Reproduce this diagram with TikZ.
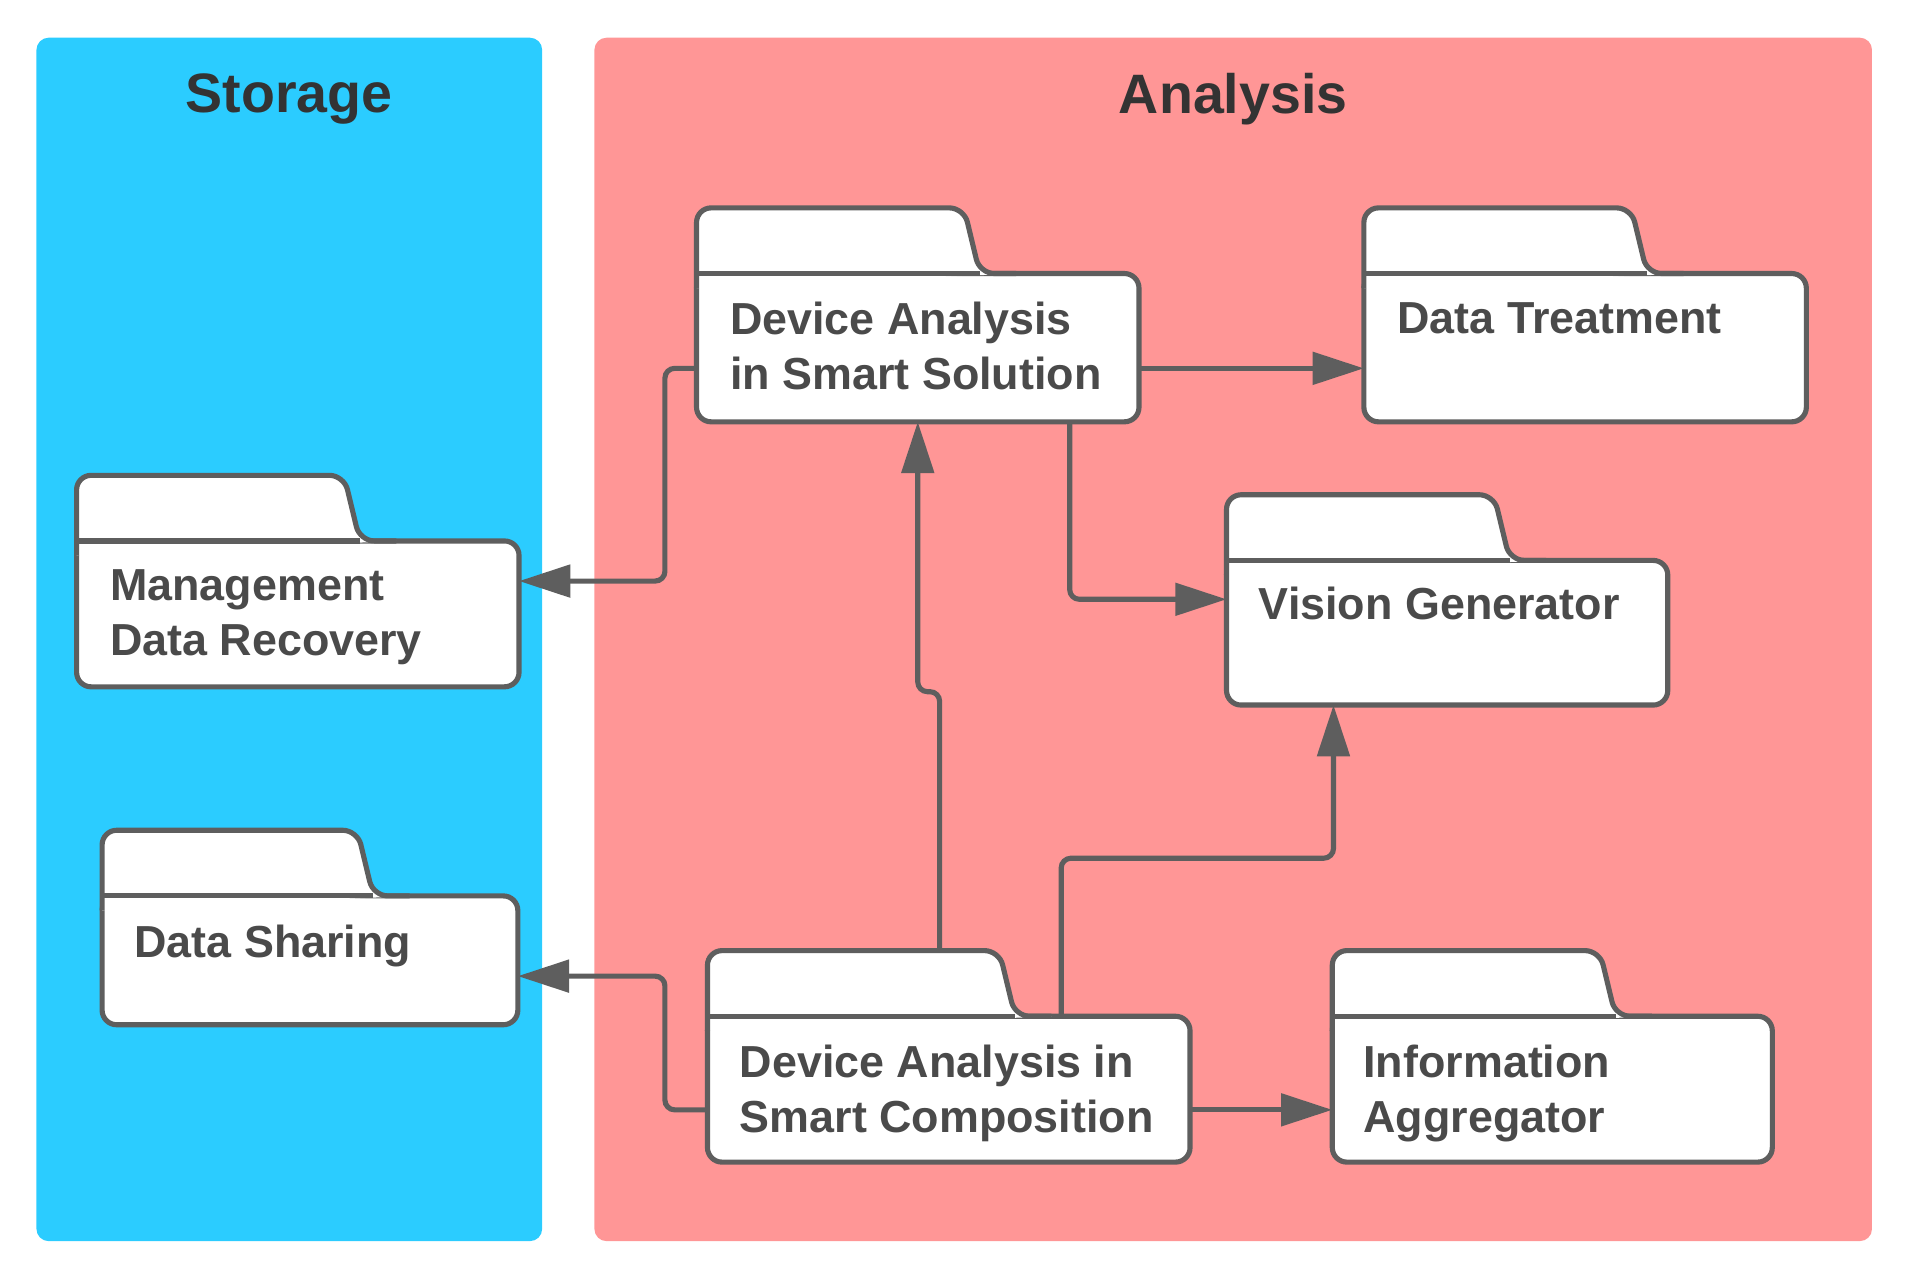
\documentclass[tikz,border=0pt]{standalone}
\usepackage{fontspec}
\setmainfont{Liberation Sans}
\usetikzlibrary{arrows.meta}

\definecolor{storagecyan}{RGB}{43,204,255}
\definecolor{analysispink}{RGB}{255,150,150}
\definecolor{linegray}{RGB}{94,94,94}
\definecolor{textgray}{RGB}{74,74,74}
\definecolor{titlegray}{RGB}{51,51,51}

% tab on top of a folder body node: #1 = body node, #2 = tab width
\newcommand{\foldertab}[2]{%
  \draw[folderline,fill=white,rounded corners=1.2mm]
    ([yshift=-1.2mm]#1.north west) -- ++(0,0.66) -- ++(#2,0)
    -- ++(0.13,-0.54) -- ++(0.3,0);
  \draw[folderline] (#1.north west) -- ++({#2+0.13},0);
  \coordinate (#1-tab) at ([yshift=5.4mm]#1.north west);
}

\begin{document}
\begin{tikzpicture}[
  panel/.style={rounded corners=1mm,inner sep=0pt},
  paneltitle/.style={font=\fontsize{13}{15}\selectfont\bfseries,text=titlegray},
  folder/.style={draw=linegray,line width=1.2pt,fill=white,rounded corners=1.2mm,
    inner sep=0pt,outer sep=0pt},
  folderline/.style={draw=linegray,line width=1.2pt},
  foldertext/.style={font=\fontsize{10.5}{12.8}\selectfont\bfseries,text=textgray,
    align=left,anchor=north west,inner sep=0pt},
  flow/.style={draw=linegray,line width=1.2pt,rounded corners=0.8mm,
    -{Triangle[length=12pt,width=7.5pt]}},
]
\useasboundingbox (0,0) rectangle (15.68,-10.55);

% ------------------------------------------------------------------
% Panels with their titles
% ------------------------------------------------------------------
\node[panel,fill=storagecyan,minimum width=4.16cm,minimum height=9.90cm] (storage) at (2.38,-5.26) {};
\node[panel,fill=analysispink,minimum width=10.51cm,minimum height=9.90cm] (analysis) at (10.145,-5.26) {};

\node[paneltitle] (storagetitle) at ([yshift=-0.51cm]storage.north) {Storage};
\node[paneltitle] (analysistitle) at ([yshift=-0.51cm]analysis.north) {Analysis};

% ------------------------------------------------------------------
% Folders in the storage panel
% ------------------------------------------------------------------
\node[folder,minimum width=3.64cm,minimum height=1.20cm] (mdr) at (2.45,-5.05) {};
\foldertab{mdr}{2.2}
\node[foldertext] (mdrtext) at ([xshift=0.27cm,yshift=-0.23cm]mdr.north west) {Management\\Data Recovery};

\node[folder,minimum width=3.42cm,minimum height=1.06cm] (share) at (2.55,-7.90) {};
\foldertab{share}{2.1}
\node[foldertext] (sharetext) at ([xshift=0.26cm,yshift=-0.23cm]share.north west) {Data Sharing};

% ------------------------------------------------------------------
% Folders in the analysis panel
% ------------------------------------------------------------------
\node[folder,minimum width=3.64cm,minimum height=1.22cm] (sol) at (7.55,-2.86) {};
\foldertab{sol}{2.2}
\node[foldertext] (soltext) at ([xshift=0.27cm,yshift=-0.23cm]sol.north west) {Device Analysis\\in Smart Solution};

\node[folder,minimum width=3.64cm,minimum height=1.22cm] (treat) at (13.04,-2.86) {};
\foldertab{treat}{2.2}
\node[foldertext] (treattext) at ([xshift=0.27cm,yshift=-0.23cm]treat.north west) {Data Treatment};

\node[folder,minimum width=3.63cm,minimum height=1.19cm] (vis) at (11.905,-5.205) {};
\foldertab{vis}{2.2}
\node[foldertext] (vistext) at ([xshift=0.26cm,yshift=-0.21cm]vis.north west) {Vision Generator};

\node[folder,minimum width=3.97cm,minimum height=1.20cm] (comp) at (7.805,-8.96) {};
\foldertab{comp}{2.4}
\node[foldertext] (comptext) at ([xshift=0.26cm,yshift=-0.23cm]comp.north west) {Device Analysis in\\Smart Composition};

\node[folder,minimum width=3.62cm,minimum height=1.20cm] (agg) at (12.77,-8.96) {};
\foldertab{agg}{2.2}
\node[foldertext] (aggtext) at ([xshift=0.25cm,yshift=-0.23cm]agg.north west) {Information\\Aggregator};

% ------------------------------------------------------------------
% Connections
% ------------------------------------------------------------------
\draw[flow] ([yshift=-0.17cm]sol.west) -- ++(-0.26,0) |- ([yshift=0.27cm]mdr.east);
\draw[flow] ([yshift=-0.17cm]sol.east) -- ([yshift=-0.17cm]treat.west);
\draw[flow] ([xshift=1.25cm]sol.south) |- ([yshift=0.275cm]vis.west);
\draw[flow] ([xshift=1.91cm]comp-tab) -- ++(0,2.13) -| (sol.south);
\draw[flow] ([yshift=-0.17cm]comp.east) -- ([yshift=-0.17cm]agg.west);
\draw[flow] ([yshift=-0.17cm]comp.west) -- ++(-0.35,0) |- ([yshift=-0.13cm]share.east);
\draw[flow] ([xshift=0.925cm]comp.north) -- ++(0,1.30) -| ([xshift=-0.935cm]vis.south);

\end{tikzpicture}
\end{document}
